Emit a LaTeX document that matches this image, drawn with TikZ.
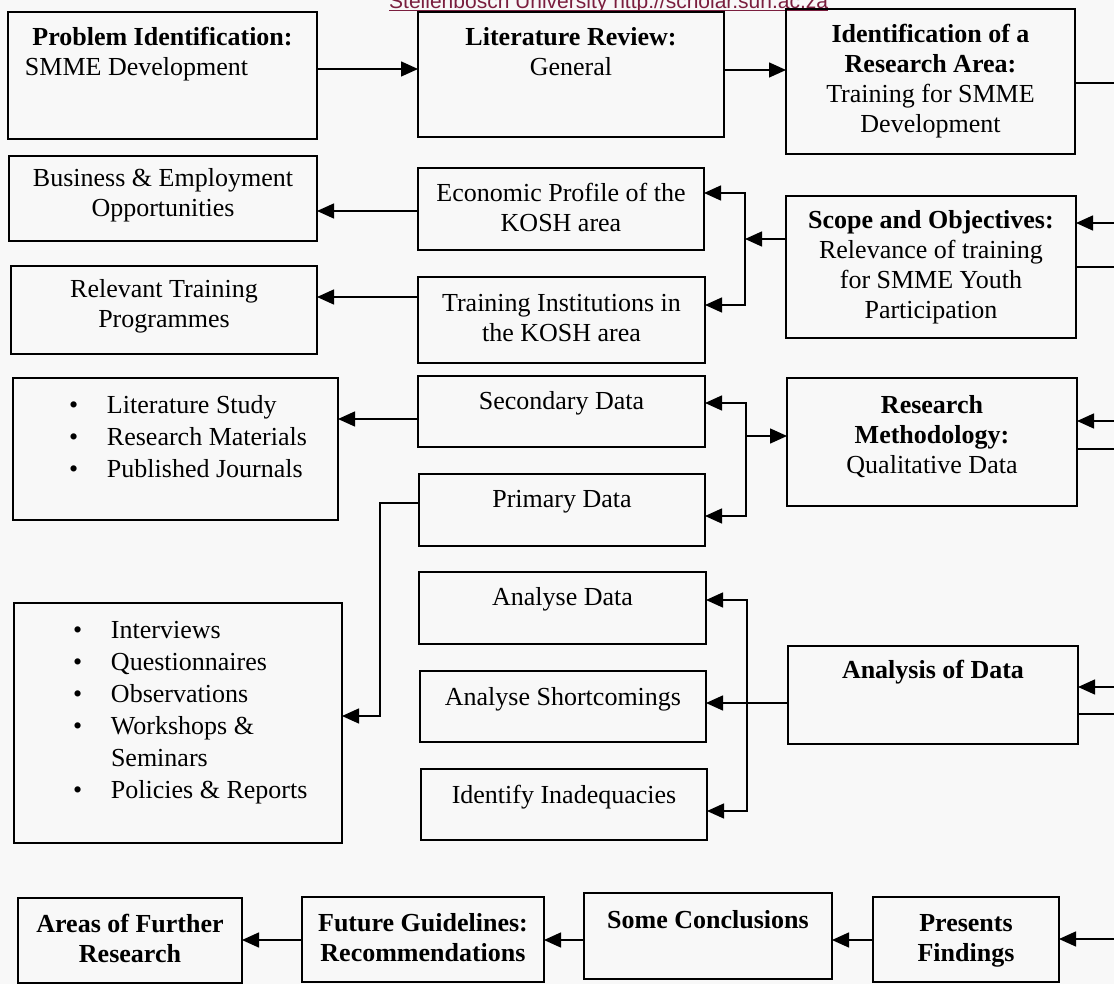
\documentclass[tikz,border=0pt]{standalone}
\usepackage{fontspec}
\setmainfont{Liberation Serif}
\setsansfont{Liberation Sans}
\usetikzlibrary{arrows.meta}
\definecolor{wmcol}{RGB}{122,30,62}
\definecolor{bgcol}{RGB}{248,248,248}
\newcommand\bx[7][34]{\node[box] (#2) at ({(#3+#5)/2},{(#4+#6)/2}) {\parbox[c][\dimexpr#6pt-#4pt\relax][t]{\dimexpr#5pt-#3pt\relax}{\centering\rule{0pt}{#1pt}#7\par}};}
\newcommand\bul{\makebox[38pt][l]{\textbullet}}
\tikzset{
  box/.style={draw, line width=1.8pt, inner sep=0pt, outer sep=0pt, font=\fontsize{26}{30}\selectfont},
  arr/.style={line width=1.5pt, -{Triangle[length=17pt,width=15pt]}},
  ln/.style={line width=1.5pt}
}
\begin{document}
\begin{tikzpicture}[x=1pt,y=-1pt]
\fill[bgcol] (0,0) rectangle (1114,984);
\useasboundingbox (0,0) rectangle (1114,984);

% watermark
\node[anchor=base west, inner sep=0pt, text=wmcol, font=\fontsize{21}{21}\sffamily] (wm) at (389,8.5) {Stellenbosch University http://scholar.sun.ac.za};
\draw[wmcol, line width=1pt] ([yshift=-2pt]wm.base west) -- ([yshift=-2pt]wm.base east);

% top row
\bx{prob}{8}{12}{317}{139}{\textbf{Problem Identification:}\\\hspace*{17pt}SMME Development\hfill\mbox{}}
\bx{lit}{418}{12}{724}{137}{\textbf{Literature Review:}\\General}
\bx{ident}{786}{9}{1075}{154}{\textbf{Identification of a}\\\textbf{Research Area:}\\Training for SMME\\Development}

% second band
\bx[31]{bus}{9}{156}{317}{241}{Business \& Employment\\Opportunities}
\bx{econ}{418}{168}{704}{250}{Economic Profile of the\\KOSH area}
\bx[33]{scope}{786}{196}{1076}{338}{\textbf{Scope and Objectives:}\\Relevance of training\\for SMME Youth\\Participation}
\bx[32]{relt}{11}{266}{317}{354}{Relevant Training\\Programmes}
\bx[35]{train}{418}{277}{705}{363}{Training Institutions in\\the KOSH area}

% data band
\bx[35]{litl}{13}{378}{338}{520}{\raggedright\fontsize{26}{32}\selectfont\hspace*{56pt}\bul Literature Study\\\hspace*{56pt}\bul Research Materials\\\hspace*{56pt}\bul Published Journals}
\bx[33]{sec}{418}{376}{705}{447}{Secondary Data}
\bx[35]{rm}{787}{378}{1077}{506}{\textbf{Research}\\\textbf{Methodology:}\\Qualitative Data}
\bx[33]{prim}{419}{474}{705}{546}{Primary Data}

% analysis band
\bx[33]{adata}{419}{572}{706}{644}{Analyse Data}
\bx[35]{intv}{14}{603}{342}{843}{\raggedright\fontsize{26}{32}\selectfont\hspace*{59pt}\bul Interviews\\\hspace*{59pt}\bul Questionnaires\\\hspace*{59pt}\bul Observations\\\hspace*{59pt}\bul Workshops \&\\\hspace*{97pt}Seminars\\\hspace*{59pt}\bul Policies \& Reports}
\bx[32]{aod}{788}{646}{1078}{744}{\textbf{Analysis of Data}}
\bx{short}{420}{671}{706}{742}{Analyse Shortcomings}
\bx{inad}{421}{769}{707}{840}{Identify Inadequacies}

% bottom row
\bx{areas}{18}{898}{242}{983}{\textbf{Areas of Further}\\\textbf{Research}}
\bx{fut}{302}{897}{544}{982}{\textbf{Future Guidelines:}\\\textbf{Recommendations}}
\bx[35]{concl}{584}{893}{832}{979}{\textbf{Some Conclusions}}
\bx{pres}{873}{897}{1059}{982}{\textbf{Presents}\\\textbf{Findings}}

% top row connectors
\draw[arr] (prob.east |- 0,69) -- (lit.west |- 0,69);
\draw[arr] (lit.east |- 0,70) -- (ident.west |- 0,70);

% right edge connectors
\coordinate (r1) at (1114,83);  \draw[ln]  (ident.east |- r1) -- (r1);
\coordinate (r2) at (1114,223); \draw[arr] (r2) -- (scope.east |- r2);
\coordinate (r3) at (1114,267); \draw[ln]  (scope.east |- r3) -- (r3);
\coordinate (r4) at (1114,421); \draw[arr] (r4) -- (rm.east |- r4);
\coordinate (r5) at (1114,449); \draw[ln]  (rm.east |- r5) -- (r5);
\coordinate (r6) at (1114,687); \draw[arr] (r6) -- (aod.east |- r6);
\coordinate (r7) at (1114,714); \draw[ln]  (aod.east |- r7) -- (r7);
\coordinate (r8) at (1114,939); \draw[arr] (r8) -- (pres.east |- r8);

% bottom row connectors
\draw[arr] (pres.west |- 0,940) -- (concl.east |- 0,940);
\draw[arr] (concl.west |- 0,940) -- (fut.east |- 0,940);
\draw[arr] (fut.west |- 0,940) -- (areas.east |- 0,940);

% scope junction
\coordinate (j1) at (745,239);
\draw[arr] (scope.west |- j1) -- (j1);
\draw[arr] (j1) |- (econ.east |- 0,193);
\draw[arr] (j1) |- (train.east |- 0,305);
\draw[arr] (econ.west |- 0,211) -- (bus.east |- 0,211);
\draw[arr] (train.west |- 0,297) -- (relt.east |- 0,297);

% methodology junction
\coordinate (j2) at (746,436);
\draw[arr] (j2) -- (rm.west |- j2);
\draw[arr] (j2) |- (sec.east |- 0,403);
\draw[arr] (j2) |- (prim.east |- 0,516);
\draw[arr] (sec.west |- 0,419) -- (litl.east |- 0,419);
\coordinate (j3) at (380,716);
\draw[arr] (prim.west |- 0,503) -| (j3) -- (intv.east |- j3);

% analysis junction
\coordinate (j4) at (747,703);
\draw[arr] (aod.west |- j4) -- (short.east |- j4);
\draw[arr] (j4) |- (adata.east |- 0,600);
\draw[arr] (j4) |- (inad.east |- 0,811);
\end{tikzpicture}
\end{document}
